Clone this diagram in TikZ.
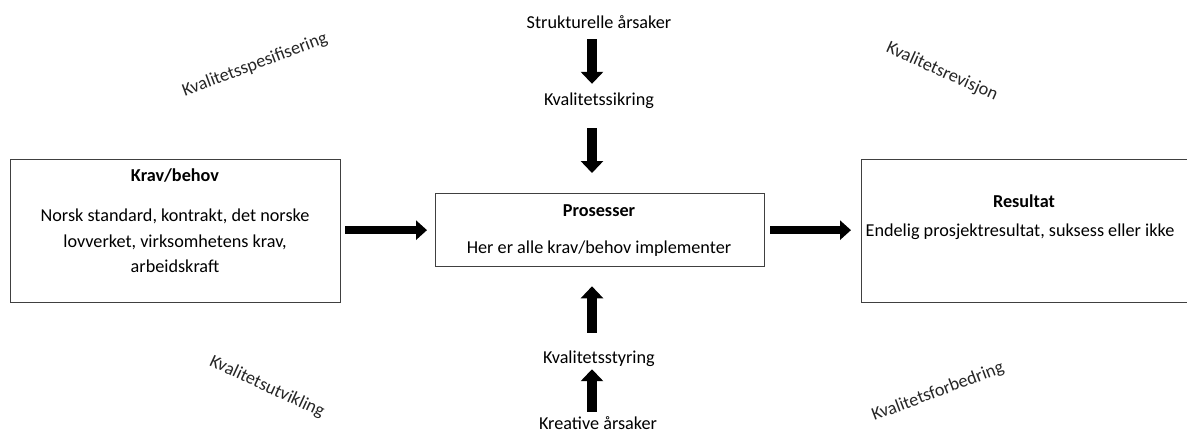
\documentclass[tikz,border=0pt]{standalone}
\usepackage{fontspec}
\setmainfont{Carlito}
\usetikzlibrary{arrows.meta}
\begin{document}
\begin{tikzpicture}[x=1pt,y=-1pt,
  font=\fontsize{18.2}{25.5}\selectfont,
  box/.style={draw=black!75,line width=1.3pt,inner sep=0pt,anchor=north west},
  label/.style={inner sep=0pt,text height=12pt,text depth=4pt},
  title/.style={label,font=\fontsize{18.2}{25.5}\selectfont\bfseries},
  tilted/.style={inner sep=0pt,text=black!85},
  hflow/.style={line width=8pt,-{Triangle[width=19pt,length=11pt]}},
  vflow/.style={line width=9.5pt,-{Triangle[width=22pt,length=12pt]}}]
  \useasboundingbox (0,0) rectangle (1187,432);

  % boxes
  \node[box,minimum width=330pt,minimum height=143pt] (krav) at (10,159) {};
  \node[box,minimum width=329pt,minimum height=73pt] (pros) at (435,193) {};
  \begin{scope}
    \clip (0,0) rectangle (1187,432);
    \node[box,minimum width=340pt,minimum height=143pt] (res) at (861,159) {};
  \end{scope}

  % box texts
  \node[title] (kravtitle) at (175,177) {Krav/behov};
  \node[inner sep=0pt,align=center] (kravtext) at (175,241)
    {Norsk standard, kontrakt, det norske\\lovverket, virksomhetens krav,\\arbeidskraft};
  \node[title] (prostitle) at (599,212) {Prosesser};
  \node[label] (prostext) at (599,249) {Her er alle krav/behov implementer};
  \node[title] (restitle) at (1024,203) {Resultat};
  \node[label] (restext) at (1020,232) {Endelig prosjektresultat, suksess eller ikke};

  % causes and quality steps on the centre axis
  \coordinate (ax) at (592,0);
  \node[label] (strukt) at (599,24) {Strukturelle årsaker};
  \node[label] (sikring) at (599,101) {Kvalitetssikring};
  \node[label] (styring) at (599,359) {Kvalitetsstyring};
  \node[label] (kreativ) at (598,425) {Kreative årsaker};

  % tilted corner labels
  \node[tilted,rotate=20.5] (spes) at (255,65) {Kvalitetsspesifisering};
  \node[tilted,rotate=-24] (rev) at (942,72) {Kvalitetsrevisjon};
  \node[tilted,rotate=-25] (utv) at (267,387) {Kvalitetsutvikling};
  \node[tilted,rotate=20.6] (forb) at (938,392) {Kvalitetsforbedring};

  % horizontal flow
  \draw[hflow,shorten <=4pt,shorten >=8pt] (krav.east |- pros.west) -- (pros.west);
  \draw[hflow,shorten <=5pt,shorten >=10pt] (pros.east) -- (res.west |- pros.east);

  % vertical flow
  \draw[vflow,shorten <=7pt,shorten >=9pt] (strukt.south -| ax) -- (sikring.north -| ax);
  \draw[vflow,shorten <=19pt,shorten >=20pt] (sikring.south -| ax) -- (pros.north -| ax);
  \draw[vflow,shorten <=18pt,shorten >=19pt] (styring.north -| ax) -- (pros.south -| ax);
  \draw[vflow,shorten <=5pt,shorten >=2pt] (kreativ.north -| ax) -- (styring.south -| ax);
\end{tikzpicture}
\end{document}
